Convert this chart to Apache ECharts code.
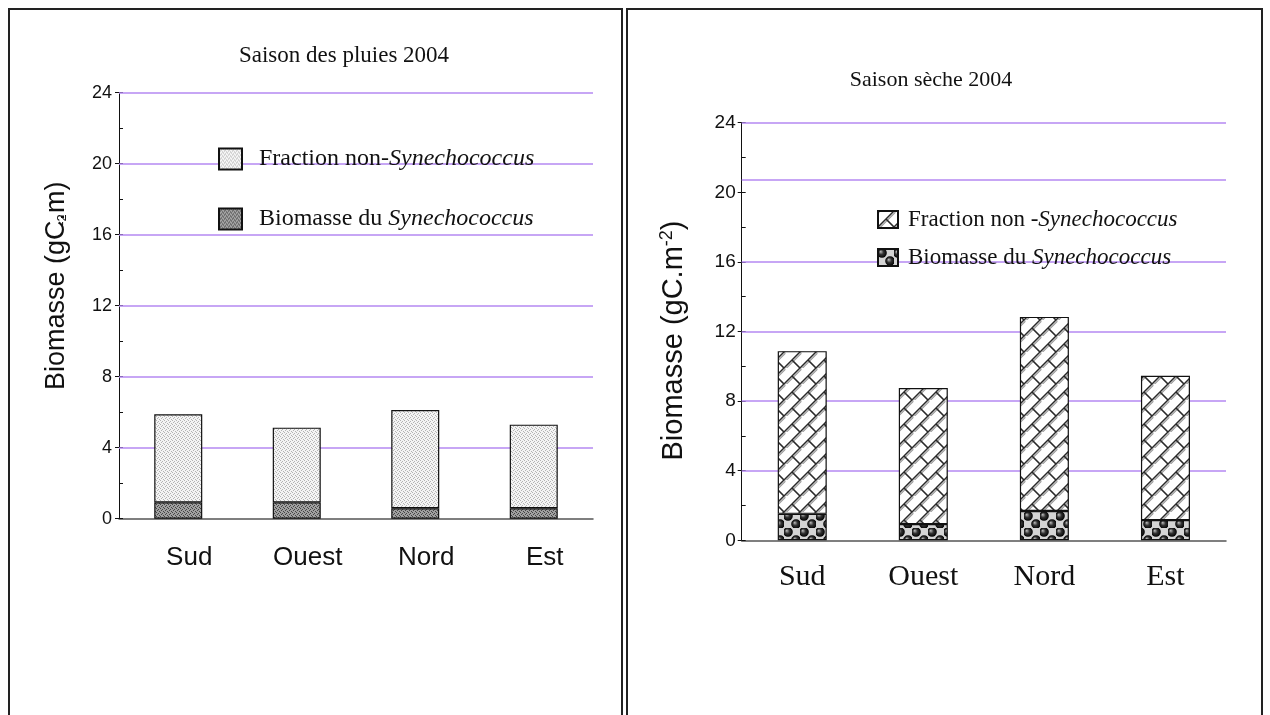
<!DOCTYPE html>
<html>
<head>
<meta charset="utf-8">
<title>Biomasse Synechococcus 2004</title>
<script src="https://cdn.jsdelivr.net/npm/echarts@6/dist/echarts.min.js"></script>
<style>
    html, body { margin: 0; padding: 0; background: #fff; }
    .panel { position: absolute; top: 8px; height: 760px; border: 2px solid #222; border-bottom: none; box-sizing: border-box; }
    .chart { position: absolute; left: 0; top: 0; width: 1270px; height: 715px; }
</style>
</head>
<body>
<div class="panel" style="left:8px;width:615px"></div>
<div class="panel" style="left:626px;width:637px"></div>
<div id="rainy" class="chart"></div>
<div id="dry" class="chart"></div>
<script>
// valeurs (gC.m-2)
const categories = ['Sud', 'Ouest', 'Nord', 'Est'];
const rainySyn = [0.92, 0.92, 0.59, 0.59];
const rainyNonSyn = [4.96, 4.21, 5.53, 4.71];
const drySyn = [1.52, 0.93, 1.68, 1.16];
const dryNonSyn = [9.35, 7.82, 11.16, 8.30];
const rainyGridLines = [4, 8, 12, 16, 20, 24];
const dryGridLines = [4, 8, 12, 16, 20.7, 24];

const serif = '"Liberation Serif", "Times New Roman", serif';
const sans = '"Liberation Sans", Arial, sans-serif';
const purple = '#b488f2';

// motifs de remplissage
function stipple(bg, fg) {
    let c = document.createElement('canvas');
    c.width = c.height = 4;
    let g = c.getContext('2d');
    g.fillStyle = bg;
    g.fillRect(0, 0, 4, 4);
    g.fillStyle = fg;
    [[0, 0], [2, 1], [1, 2], [3, 3]].forEach(p => g.fillRect(p[0], p[1], 1, 1));
    return c;
}

function bricks(s) {
    let c = document.createElement('canvas');
    c.width = c.height = s;
    let g = c.getContext('2d');
    g.fillStyle = '#fff';
    g.fillRect(0, 0, s, s);
    let draw = (color, width, off) => {
        g.strokeStyle = color;
        g.lineWidth = width;
        g.beginPath();
        for (let dx of [-s, 0, s]) {
            g.moveTo(dx + off, s + off);
            g.lineTo(dx + s + off, off);
        }
        g.moveTo(s / 2 + off, s / 2 + off);
        g.lineTo(s + off, s + off);
        g.moveTo(-s / 2 + off, -s / 2 + off);
        g.lineTo(off, off);
        g.stroke();
    };
    draw('#9a9a9a', 1.2, 1.3);
    draw('#2a2a2a', 1.5, 0);
    return c;
}

function balls(s) {
    let c = document.createElement('canvas');
    c.width = c.height = s;
    let g = c.getContext('2d');
    g.fillStyle = '#fff';
    g.fillRect(0, 0, s, s);
    g.fillStyle = '#d4d4d4';
    g.fillRect(s / 2, 0, s / 2, s / 2);
    g.fillRect(0, s / 2, s / 2, s / 2);
    let r = s / 4 + 0.8;
    [[s / 4, s / 4], [3 * s / 4, 3 * s / 4]].forEach(p => {
        let grad = g.createRadialGradient(p[0] - 1.4, p[1] - 1.4, 0.3, p[0], p[1], r);
        grad.addColorStop(0, '#b0b0b0');
        grad.addColorStop(0.45, '#333');
        grad.addColorStop(1, '#000');
        g.fillStyle = grad;
        g.beginPath();
        g.arc(p[0], p[1], r, 0, Math.PI * 2);
        g.fill();
    });
    return c;
}

function gridMarks(values) {
    return {
        silent: true,
        symbol: 'none',
        z: 1,
        animation: false,
        label: {show: false},
        lineStyle: {color: purple, width: 1.5, type: 'solid'},
        data: values.map(v => ({yAxis: v}))
    };
}

function barSeries(name, data, pattern, width, marks) {
    let s = {
        name: name,
        type: 'bar',
        stack: 'total',
        data: data,
        barWidth: width,
        itemStyle: {color: {image: pattern, repeat: 'repeat'}, borderColor: '#111', borderWidth: 1.2},
        emphasis: {disabled: true}
    };
    if (marks) {
        s.markLine = gridMarks(marks);
    }
    return s;
}

function minorAxis() {
    return {
        type: 'value', min: 0, max: 24, interval: 2, position: 'left',
        axisLine: {show: false},
        axisTick: {show: true, inside: true, length: 4, lineStyle: {color: '#111'}},
        axisLabel: {show: false},
        splitLine: {show: false}
    };
}

// Saison des pluies
let rainyChart = echarts.init(document.getElementById('rainy'));
let rainyNonName = 'Fraction non-Synechococcus';
let rainySynName = 'Biomasse du Synechococcus';
rainyChart.setOption({
    animation: false,
    title: {
        text: 'Saison des pluies 2004',
        left: 339, top: 39, textAlign: 'center',
        textStyle: {fontFamily: serif, fontSize: 23, fontWeight: 'normal', color: '#111'}
    },
    legend: {
        orient: 'vertical', left: 213, top: 142,
        icon: 'rect',
        itemWidth: 23, itemHeight: 21, itemGap: 36,
        data: [rainyNonName, rainySynName],
        formatter: name => name === rainyNonName ? '{g|}Fraction non-{i|Synechococcus}' : '{g|}Biomasse du {i|Synechococcus}',
        textStyle: {
            fontFamily: serif, fontSize: 24, color: '#111',
            rich: {
                g: {width: 12},
                i: {fontFamily: serif, fontSize: 24, fontStyle: 'italic', color: '#111'}
            }
        }
    },
    grid: {left: 119, right: 677, top: 92.7, bottom: 196.3},
    xAxis: {
        type: 'category', data: categories,
        axisLine: {lineStyle: {color: '#555', width: 1.5}},
        axisTick: {length: 6, lineStyle: {color: '#222'}},
        axisLabel: {fontFamily: sans, fontSize: 26, color: '#111', margin: 26, padding: [0, 0, 0, 22]}
    },
    yAxis: [{
        type: 'value', min: 0, max: 24, interval: 4, position: 'left',
        axisLine: {show: true, lineStyle: {color: '#111'}},
        axisTick: {show: true, length: 4, lineStyle: {color: '#111'}},
        axisLabel: {fontFamily: sans, fontSize: 18, color: '#111', margin: 7},
        splitLine: {show: false},
        name: 'Biomasse (gC.m)', nameLocation: 'middle', nameRotate: 90, nameGap: 49,
        nameTextStyle: {fontFamily: sans, fontSize: 27, color: '#111', padding: [0, 0, 0, 40]}
    }, minorAxis()],
    graphic: [{
        type: 'text', x: 62, y: 220, rotation: Math.PI / 2,
        style: {text: '-2', font: '13px ' + sans, fill: '#111', align: 'center', verticalAlign: 'middle'}
    }],
    series: [
        barSeries(rainySynName, rainySyn, stipple('#a0a0a0', '#444'), 48),
        barSeries(rainyNonName, rainyNonSyn, stipple('#f4f4f4', '#b4b4b4'), 48, rainyGridLines)
    ]
});

// Saison sèche
let dryChart = echarts.init(document.getElementById('dry'));
let dryNonName = 'Fraction non -Synechococcus';
let drySynName = 'Biomasse du Synechococcus';
dryChart.setOption({
    animation: false,
    title: {
        text: 'Saison sèche 2004',
        left: 926, top: 64, textAlign: 'center',
        textStyle: {fontFamily: serif, fontSize: 22, fontWeight: 'normal', color: '#111'}
    },
    legend: {
        orient: 'vertical', left: 872, top: 203,
        icon: 'rect',
        itemWidth: 20, itemHeight: 17, itemGap: 15,
        data: [dryNonName, drySynName],
        formatter: name => name === dryNonName ? '{g|}Fraction non -{i|Synechococcus}' : '{g|}Biomasse du {i|Synechococcus}',
        textStyle: {
            fontFamily: serif, fontSize: 23, color: '#111',
            rich: {
                g: {width: 5},
                i: {fontFamily: serif, fontSize: 23, fontStyle: 'italic', color: '#111'}
            }
        }
    },
    grid: {left: 741.7, right: 44, top: 122.7, bottom: 174.7},
    xAxis: {
        type: 'category', data: categories,
        axisLine: {lineStyle: {color: '#555', width: 1.5}},
        axisTick: {length: 6, lineStyle: {color: '#222'}},
        axisLabel: {fontFamily: serif, fontSize: 30, color: '#111', margin: 22}
    },
    yAxis: [{
        type: 'value', min: 0, max: 24, interval: 4, position: 'left',
        axisLine: {show: true, lineStyle: {color: '#111'}},
        axisTick: {show: true, length: 4, lineStyle: {color: '#111'}},
        axisLabel: {fontFamily: sans, fontSize: 19, color: '#111', margin: 6},
        splitLine: {show: false},
        name: 'Biomasse (gC.m{sup|-2})', nameLocation: 'middle', nameRotate: 90, nameGap: 52,
        nameTextStyle: {
            fontFamily: sans, fontSize: 29, color: '#111', lineHeight: 32, padding: [0, 18, 0, 0],
            rich: {sup: {fontFamily: sans, fontSize: 18, lineHeight: 18, verticalAlign: 'top', color: '#111'}}
        }
    }, minorAxis()],
    series: [
        barSeries(drySynName, drySyn, balls(16), 49),
        barSeries(dryNonName, dryNonSyn, bricks(16), 49, dryGridLines)
    ]
});
</script>
</body>
</html>
